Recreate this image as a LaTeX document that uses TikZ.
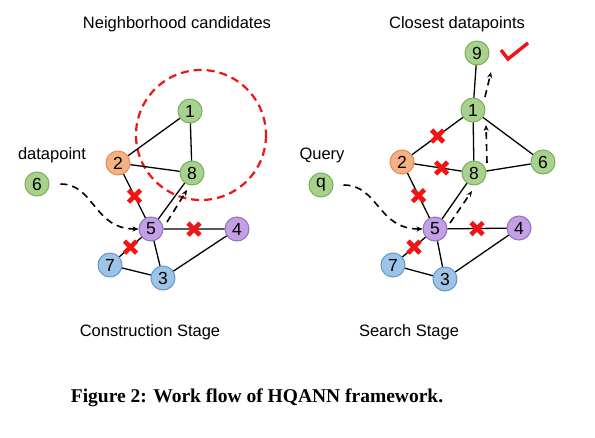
\documentclass[tikz,border=0pt]{standalone}
\usepackage{fontspec}
\setmainfont{Liberation Sans}
\newfontfamily\capfont{Liberation Serif}
\usetikzlibrary{calc,arrows.meta}
\definecolor{gfill}{RGB}{169,209,142}
\definecolor{gline}{RGB}{120,175,90}
\definecolor{ofill}{RGB}{244,177,131}
\definecolor{oline}{RGB}{225,140,85}
\definecolor{pfill}{RGB}{195,160,228}
\definecolor{pline}{RGB}{150,110,190}
\definecolor{bfill}{RGB}{157,195,230}
\definecolor{bline}{RGB}{100,150,205}
\definecolor{xred}{RGB}{240,20,20}
\tikzset{
  vtx/.style={circle, minimum size=24pt, inner sep=0pt, line width=1pt, font=\fontsize{17.5}{17.5}\selectfont},
  gv/.style={vtx, fill=gfill, draw=gline},
  ov/.style={vtx, fill=ofill, draw=oline},
  pv/.style={vtx, fill=pfill, draw=pline},
  bv/.style={vtx, fill=bfill, draw=bline},
  edge/.style={line width=1.3pt, black},
  dasharrow/.style={line width=1.6pt, black, dash pattern=on 7pt off 5pt, -{Stealth[length=6pt,width=5pt]}},
  lbl/.style={font=\fontsize{16.5}{18}\selectfont, inner sep=0pt},
  xmark/.pic={\draw[xred, line width=4.6pt] (-6,-6)--(6,6) (-6,6)--(6,-6);}
}
\begin{document}
\begin{tikzpicture}[x=1pt,y=-1pt]
\useasboundingbox (0,0) rectangle (595,437);
% ---------- left panel ----------
\node[lbl] (t1) at (177,24) {Neighborhood candidates};
\node[lbl] (dp) at (52,155) {datapoint};
\draw[xred, line width=2.2pt, dash pattern=on 8pt off 5pt] (201,135) circle (65);
\node[gv] (a1) at (190,111) {1};
\node[ov] (a2) at (118,163) {2};
\node[gv] (a8) at (192,173) {8};
\node[gv] (a6) at (37,184) {6};
\node[pv] (a5) at (151,229) {5};
\node[pv] (a4) at (237,229) {4};
\node[bv] (a7) at (110,265) {7};
\node[bv] (a3) at (163,278) {3};
\draw[edge] (a1)--(a2) (a1)--(a8) (a2)--(a8) (a2)--(a5) (a5)--(a8) (a5)--(a4) (a5)--(a7) (a5)--(a3) (a7)--(a3) (a3)--(a4);
\pic at ($(a2)!0.5!(a5)$) {xmark};
\pic at ($(a5)!0.5!(a4)$) {xmark};
\pic at ($(a5)!0.5!(a7)$) {xmark};
\draw[dasharrow, shorten <=11pt] (a6.east) .. controls +(45,0) and +(-45,0) .. (a5.west);
\draw[dasharrow] ([shift={(16,-7)}]a5.center) -- ([shift={(-5,17)}]a8.center);
\node[lbl] (s1) at (150,332) {Construction Stage};
% ---------- right panel ----------
\node[lbl] (t2) at (457,24) {Closest datapoints};
\node[lbl] (qu) at (322,155) {Query};
\node[gv] (b9) at (477,53) {9};
\node[gv] (b1) at (473,110) {1};
\node[ov] (b2) at (402,162) {2};
\node[gv] (b8) at (474,173) {8};
\node[gv] (b6) at (543,162) {6};
\node[gv] (bq) at (321,185) {q};
\node[pv] (b5) at (435,229) {5};
\node[pv] (b4) at (519,228) {4};
\node[bv] (b7) at (393,265) {7};
\node[bv] (b3) at (445,279) {3};
\draw[edge] (b9)--(b1) (b1)--(b2) (b1)--(b8) (b1)--(b6) (b2)--(b8) (b8)--(b6) (b2)--(b5) (b5)--(b8) (b5)--(b4) (b5)--(b7) (b5)--(b3) (b7)--(b3) (b3)--(b4);
\pic at ($(b1)!0.5!(b2)$) {xmark};
\pic at ($(b2)!0.55!(b8)$) {xmark};
\pic at ($(b2)!0.5!(b5)$) {xmark};
\pic at ($(b5)!0.5!(b4)$) {xmark};
\pic at ($(b5)!0.5!(b7)$) {xmark};
\draw[dasharrow, shorten <=10pt] (bq.east) .. controls +(45,0) and +(-45,0) .. (b5.west);
\draw[dasharrow] ([shift={(15,-6)}]b5.center) -- ([shift={(-2,18)}]b8.center);
\draw[dasharrow] ([shift={(13,-10)}]b8.center) -- ([shift={(13,15)}]b1.center);
\draw[dasharrow] ([shift={(12,-13)}]b1.center) -- ([shift={(14,19)}]b9.center);
\coordinate (c1) at (501,50);
\coordinate (c2) at (508,59);
\coordinate (c3) at (528,43);
\draw[xred, line width=3.4pt] (c1)--(c2)--(c3);
\node[lbl] (s2) at (409,332) {Search Stage};
% ---------- caption ----------
\node[font=\capfont\bfseries\fontsize{19.5}{22}\selectfont, inner sep=0pt] (cap) at (257,398) {Figure 2: Work flow of HQANN framework.};
\end{tikzpicture}
\end{document}
